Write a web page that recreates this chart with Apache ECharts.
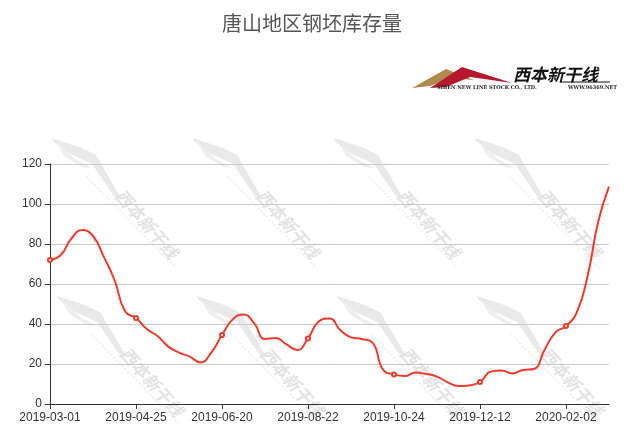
<!DOCTYPE html>
<html>
<head>
<meta charset="utf-8">
<script src="https://cdn.jsdelivr.net/npm/echarts@6/dist/echarts.min.js"></script>
<style>html,body{margin:0;padding:0;background:#fff}#c{width:624px;height:437px}</style>
</head>
<body>
<div id="c"></div>
<script>
var titleText = '唐山地区钢坯库存量';
var dates = [
 '2019-03-01','2019-03-08','2019-03-15','2019-03-22','2019-03-29','2019-04-04','2019-04-11','2019-04-18',
 '2019-04-25','2019-05-02','2019-05-09','2019-05-16','2019-05-23','2019-05-30','2019-06-06','2019-06-13',
 '2019-06-20','2019-06-27','2019-07-04','2019-07-11','2019-07-18','2019-07-25','2019-08-01','2019-08-08',
 '2019-08-22','2019-08-29','2019-09-05','2019-09-12','2019-09-19','2019-09-26','2019-10-10','2019-10-17',
 '2019-10-24','2019-10-31','2019-11-07','2019-11-14','2019-11-21','2019-11-28','2019-12-01','2019-12-05',
 '2019-12-12','2019-12-19','2019-12-26','2020-01-02','2020-01-09','2020-01-13','2020-01-16','2020-01-20',
 '2020-02-02','2020-02-06','2020-02-13','2020-02-20','2020-02-27'
];
var stock = [
 72, 74.5, 82.8, 87, 84, 73.7, 62, 46.2,
 43, 37.5, 34, 28.7, 25.7, 23.7, 20.8, 25.7,
 34.5, 42.3, 44.8, 40.3, 32.5, 33, 29.8, 27,
 32.8, 41.2, 42.8, 37, 33.3, 32.5, 30.7, 17,
 14.8, 14, 15.7, 15, 13.7, 10.8, 9, 9.3,
 11, 16.2, 16.8, 15.3, 17, 17.5, 27, 35.7,
 39, 45.8, 63.7, 91.2, 108.7
];
var brand = '西本新干线';
var brandEn = 'SIBEN NEW LINE STOCK CO., LTD.';
var brandUrl = 'WWW.96369.NET';

function watermark(x, y) {
  return {
    type: 'group', x: x, y: y, silent: true, z: 0,
    children: [
      { type: 'polygon', shape: { points: [[0,0],[30,10],[44,17],[70,62],[62,58],[40,26],[14,14],[0,2]] },
        style: { fill: '#e9e9e9' } },
      { type: 'polygon', shape: { points: [[4,3],[22,20],[40,30],[30,29],[12,18]] },
        style: { fill: '#efefef' } },
      { type: 'line', shape: { x1: 34, y1: 38, x2: 124, y2: 130 }, style: { stroke: '#f0f0f0', lineWidth: 2, lineDash: [2, 2] } },
      { type: 'text', x: 95, y: 86, rotation: -0.85,
        style: { text: brand, fill: '#e3e3e3', font: 'bold italic 17px "Noto Sans CJK SC"', align: 'center', verticalAlign: 'middle' } }
    ]
  };
}

var chart = echarts.init(document.getElementById('c'));
chart.setOption({
  animation: false,
  backgroundColor: '#fff',
  title: {
    text: titleText, left: 217, top: 8,
    textStyle: { fontSize: 20, fontWeight: 'normal', color: '#555', fontFamily: '"Noto Sans CJK SC"' }
  },
  grid: { left: 50, right: 15, top: 164, bottom: 33 },
  xAxis: {
    type: 'category', data: dates, boundaryGap: false,
    axisLine: { lineStyle: { color: '#333' } },
    axisTick: { interval: 7, lineStyle: { color: '#333' } },
    axisLabel: { interval: 7, color: '#333', fontSize: 12, margin: 8 }
  },
  yAxis: {
    type: 'value', min: 0, max: 120, interval: 20,
    axisLine: { show: true, lineStyle: { color: '#333' } },
    axisTick: { show: true, lineStyle: { color: '#333' } },
    axisLabel: { color: '#333', fontSize: 12 },
    splitLine: { lineStyle: { color: '#c8c8c8' } }
  },
  graphic: [
    watermark(52, 138), watermark(193, 138), watermark(334, 138), watermark(475, 138),
    watermark(57, 296), watermark(197, 296), watermark(337, 296), watermark(477, 296),
    { type: 'group', silent: true, children: [
      { type: 'polygon', shape: { points: [[412,88],[446,69],[474,80],[452,78],[430,86]] }, style: { fill: '#b08a4e' } },
      { type: 'polygon', shape: { points: [[430,88],[462,67],[512,83],[470,77],[446,87]] }, style: { fill: '#b5182d' } },
      { type: 'text', x: 513, y: 75, style: { text: brand, fill: '#111', font: 'bold italic 17px "Noto Sans CJK SC"', verticalAlign: 'middle' } },
      { type: 'line', shape: { x1: 560, y1: 82, x2: 610, y2: 82 }, style: { stroke: '#111', lineWidth: 1 } },
      { type: 'text', x: 437, y: 88, style: { text: brandEn, fill: '#222', font: 'bold 5px "DejaVu Serif"', verticalAlign: 'middle' } },
      { type: 'text', x: 568, y: 88, style: { text: brandUrl, fill: '#222', font: 'bold 5px "DejaVu Serif"', verticalAlign: 'middle' } }
    ] }
  ],
  series: [{
    type: 'line', data: stock, smooth: true,
    showSymbol: true, showAllSymbol: false,
    symbol: 'emptyCircle', symbolSize: 4,
    itemStyle: { color: '#ef3a2e' },
    lineStyle: { color: '#ef3a2e', width: 2 },
    z: 3
  }]
});
</script>
</body>
</html>
